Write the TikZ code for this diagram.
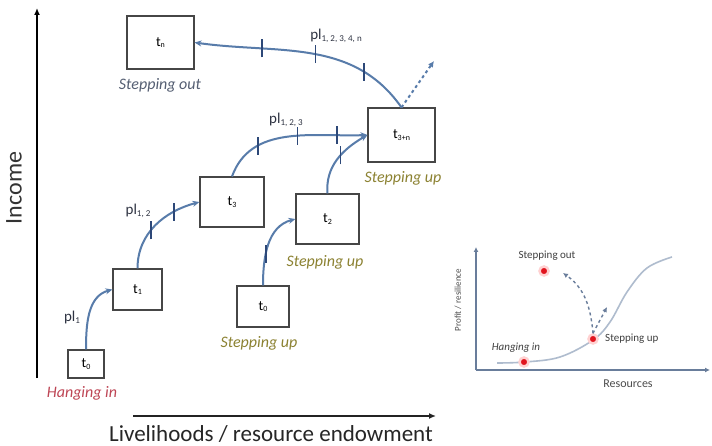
\documentclass[tikz,border=0pt]{standalone}
\usepackage{fontspec}
\setmainfont{Carlito}
\usetikzlibrary{arrows.meta,decorations.markings}
\definecolor{arcblue}{RGB}{88,124,170}
\definecolor{tickblue}{RGB}{45,72,120}
\definecolor{boxgray}{RGB}{70,70,70}
\definecolor{hangred}{RGB}{190,70,85}
\definecolor{stepolive}{RGB}{140,130,50}
\definecolor{stepgray}{RGB}{85,95,115}
\definecolor{plcol}{RGB}{45,50,65}
\definecolor{insetax}{RGB}{105,125,155}
\definecolor{scurvecol}{RGB}{175,188,206}
\definecolor{dotred}{RGB}{225,20,30}
\definecolor{axisdark}{RGB}{35,35,35}
\newcommand{\fsz}[1]{\fontsize{#1}{#1}\selectfont}
\newcommand{\tlab}[1]{t{\fsz{8}\raisebox{-0.4ex}{#1}}}
\newcommand{\pllab}[1]{pl{\fsz{9}\raisebox{-0.45ex}{#1}}}
\tikzset{
  stagebox/.style={draw=boxgray, line width=1.1pt, fill=white, inner sep=0pt, font=\fsz{14}},
  stagearc/.style={draw=arcblue, line width=2pt, -{Stealth[length=7pt,width=6pt]}},
  tickat/.style={postaction={decorate, decoration={markings, mark=at position #1 with {\pgftransformresetnontranslations \draw[draw=tickblue, line width=1.5pt, arrows=-] (0,-9pt)--(0,9pt);}}}},
  steplab/.style={font=\fsz{16}\itshape},
  pl/.style={font=\fsz{15}, text=plcol, inner sep=0pt},
  dot/.style={circle, fill=dotred, minimum size=9pt, inner sep=0pt, draw=red!18, line width=2.5pt},
  insetlab/.style={font=\fsz{11}, text=black!75, inner sep=1pt},
}
\begin{document}
\begin{tikzpicture}[x=1pt,y=-1pt]
\useasboundingbox[fill=white] (0,0) rectangle (712,446);
% main axes
\coordinate (ybot) at (37,378);
\coordinate (ytop) at (37,8);
\coordinate (xl) at (133,416);
\coordinate (xr) at (436,416);
\draw[black, line width=1.8pt, -{Latex[length=7pt,width=6pt]}] (ybot) -- (ytop);
\draw[axisdark, line width=2.4pt, -{Latex[length=7pt,width=6pt]}] (xl) -- (xr);
\node[rotate=90, font=\fsz{24}, text=black!80] (income) at (14,188) {Income};
\node[font=\fsz{23}, text=black!85] (livelihood) at (271,434) {Livelihoods / resource endowment};
% boxes
\node[stagebox, minimum width=36pt, minimum height=28pt] (h0) at (86,364) {\tlab{0}};
\node[stagebox, minimum width=49pt, minimum height=41pt] (t1) at (137.5,289.5) {\tlab{1}};
\node[stagebox, minimum width=64pt, minimum height=50pt] (t3) at (232,202) {\tlab{3}};
\node[stagebox, minimum width=63pt, minimum height=50pt] (t2) at (327.5,219) {\tlab{2}};
\node[stagebox, minimum width=52pt, minimum height=41pt] (s0) at (263,306.5) {\tlab{0}};
\node[stagebox, minimum width=67pt, minimum height=54pt] (t3n) at (401.5,135) {\tlab{3+n}};
\node[stagebox, minimum width=67pt, minimum height=53pt] (tn) at (160.5,42.5) {\tlab{n}};
% labels under boxes
\node[steplab, text=hangred] (lhang) at (82,393) {Hanging in};
\node[steplab, text=stepolive] (lsu1) at (259,343) {Stepping up};
\node[steplab, text=stepolive] (lsu2) at (325,262) {Stepping up};
\node[steplab, text=stepolive] (lsu3) at (403,178) {Stepping up};
\node[steplab, text=stepgray] (lso) at (160,85) {Stepping out};
% pathway labels
\node[pl] (pl1) at (72,318) {\pllab{1}};
\node[pl] (pl12) at (138,211) {\pllab{1, 2}};
\node[pl] (pl123) at (286,120) {\pllab{1, 2, 3}};
\node[pl] (pl1234) at (336,36) {\pllab{1, 2, 3, 4, n}};
% arcs
\draw[stagearc] (h0.north) to[out=90, in=195] (t1.west);
\draw[stagearc, tickat=0.42, tickat=0.72] (t1.north) to[out=90, in=195] (t3.west);
\draw[stagearc, tickat=0.27, tickat=0.54, tickat=0.8] (t3.north) to[out=70, in=182] (t3n.west);
\draw[stagearc, tickat=0.4] (s0.north) to[out=90, in=195] (t2.west);
\draw[stagearc, tickat=0.55] (t2.north) to[out=95, in=210] (t3n.west);
\draw[stagearc, tickat=0.23, tickat=0.46, tickat=0.7] (t3n.north) to[out=125, in=-8] (tn.east);
\coordinate (dashend) at (434,61);
\draw[arcblue, line width=2pt, dashed, -{Latex[length=6pt,width=6pt]}] (t3n.north) -- (dashend);
% inset
\coordinate (io) at (476,370);
\coordinate (itop) at (476,247);
\coordinate (iright) at (710,370);
\draw[insetax, line width=1.6pt, -{Latex[length=5pt,width=5pt]}] (io) -- (itop);
\draw[insetax, line width=1.6pt, -{Latex[length=5pt,width=5pt]}] (io) -- (iright);
\node[rotate=90, font=\fsz{9}, text=black!70] (profit) at (458,300) {Profit / resilience};
\node[font=\fsz{12}, text=black!70] (resources) at (628,384) {Resources};
\draw[scurvecol, line width=1.6pt] plot[smooth, tension=0.6] coordinates {(497,363) (525,362) (560,357) (593,340) (610,322) (627,292) (647,268) (672,257)};
\node[dot] (dhang) at (524,362) {};
\node[dot] (dsu) at (593,339) {};
\node[dot] (dso) at (544,271) {};
\node[insetlab, font=\fsz{11}\itshape] (ihang) at (516,348) {Hanging in};
\node[insetlab, anchor=west] (isu) at (604,339) {Stepping up};
\node[insetlab] (iso) at (547,256) {Stepping out};
\coordinate (soarrow) at (563,273);
\coordinate (suarrow) at (607,307);
\draw[insetax, line width=1.4pt, dashed, -{Latex[length=5pt,width=5pt]}] (dsu.north) to[out=95, in=-35] (soarrow);
\draw[insetax, line width=1.4pt, dashed, -{Latex[length=5pt,width=5pt]}] (dsu.north) -- (suarrow);
\end{tikzpicture}
\end{document}
